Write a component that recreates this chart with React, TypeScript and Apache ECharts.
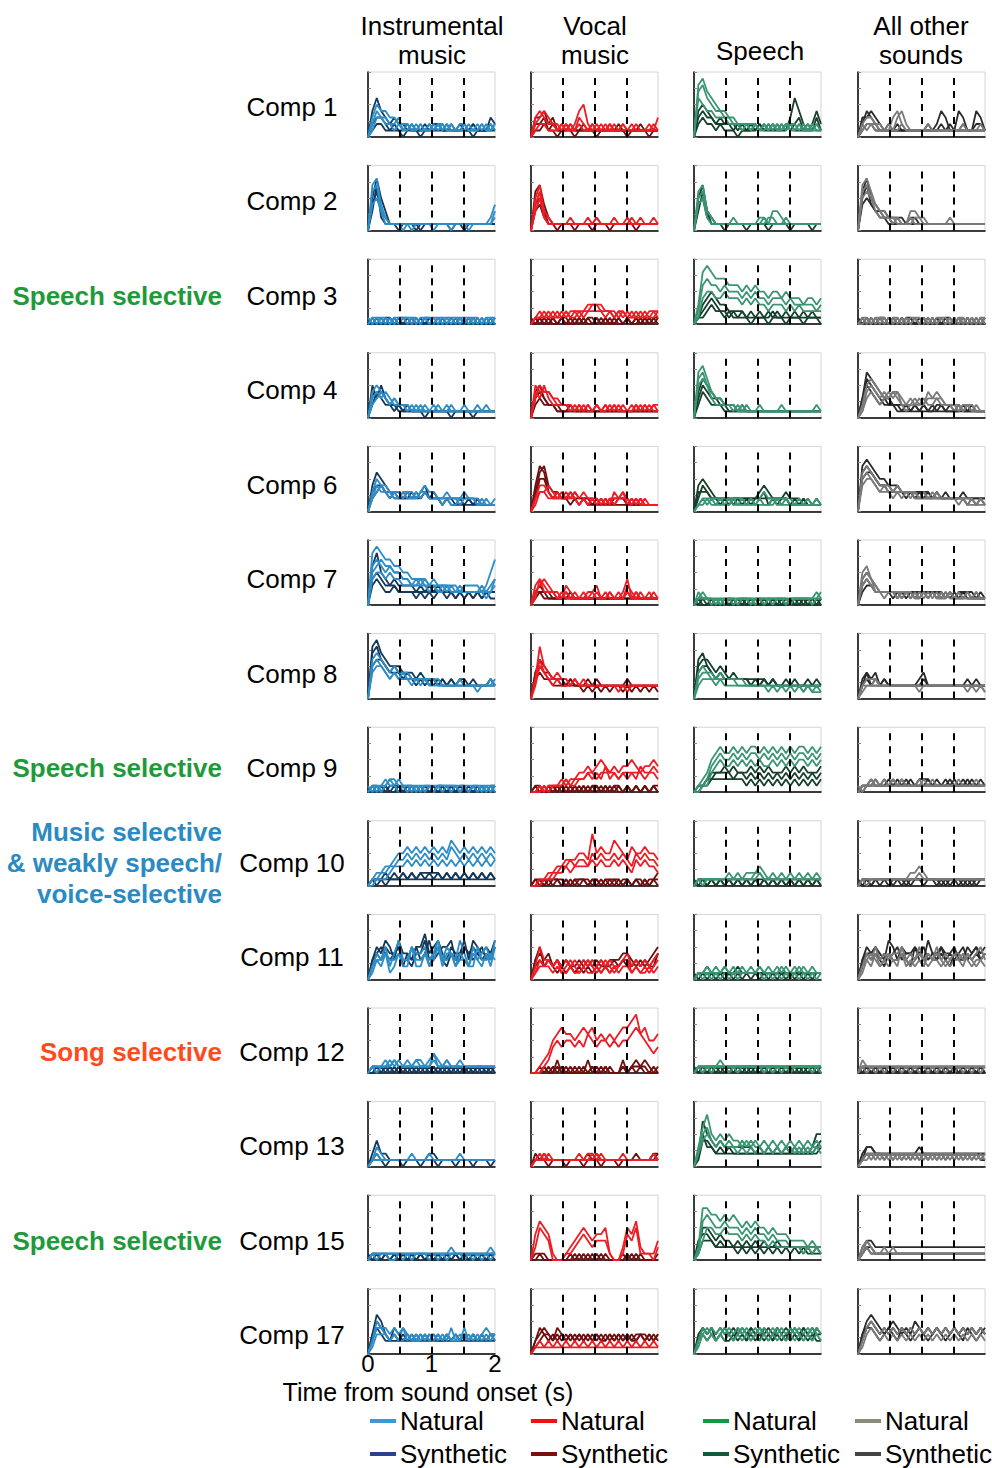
import React, { useEffect, useRef } from "react";
import * as echarts from "echarts";

// ---- Labels ----
const compLabels = ["Comp 1", "Comp 2", "Comp 3", "Comp 4", "Comp 6", "Comp 7", "Comp 8", "Comp 9", "Comp 10", "Comp 11", "Comp 12", "Comp 13", "Comp 15", "Comp 17"];
const columnHeaders = [["Instrumental", "music"], ["Vocal", "music"], ["Speech"], ["All other", "sounds"]];
const dashedTimes = [0.5, 1, 1.5];
const categoryLabels = [
  { row: 2, lines: ["Speech selective"], color: "#1f9a3b" },
  { row: 7, lines: ["Speech selective"], color: "#1f9a3b" },
  { row: 8, lines: ["Music selective", "& weakly speech/", "voice-selective"], color: "#2a8bc4" },
  { row: 10, lines: ["Song selective"], color: "#ff4a1c" },
  { row: 12, lines: ["Speech selective"], color: "#1f9a3b" },
];

// ---- Response time courses (each string = one sound's response over 0..2 s; digit = response level 0..9) ----
const instNat: string[][] = [
  ["035443322211212122111221121212", "024332231212111212121121112121", "013322121121211121211112112112"],
  ["078421111111111111111111111124", "067321110111111111101111111113", "045311111101111011111110111112"],
  ["101110101111011101101110101011", "011010111010110111010101110101", "010101011101011010111011010110"],
  ["045432322212121111211121111111", "034343222121111211111111121111", "023432322211211121121111111211"],
  ["035443332332343322322232221212", "024332323323232222211222212111", "023433223222332221222122211111"],
  ["089877665544443433333233332357", "067656554433433323322322223234", "045545443333332322322222222123", "056766554434343333232222222224"],
  ["067654544433333332222322222232", "045543433323232222222222212222", "056543434333332322222222222223"],
  ["011112121111111111111111111111", "101012211010101011101010101010", "010121101101011010111010110101"],
  ["012233455656565656576565656565", "011223344545454545465454545454", "001112333434343434343434343434"],
  ["024352463354452463543642534536", "013243342253342352442332432425", "023341243352243463342432253343"],
  ["011121211112212321211211111111", "010112121111111311111111111111", "011111211212111211211111111111"],
  ["013211111111112111111111111111", "011111111121111111111111111111", "012111111111111111111211111111"],
  ["011111111111111111121111111121", "010110010101110101011101010101", "011111111111111111111111111111"],
  ["025443434322323232323242323433", "013332324232232323242232323232", "024432322323232232322323232323"],
];
const instSyn: string[][] = [
  ["046432322121121221211211211132", "023321211211112121121111211121", "012211110111011111111121011111"],
  ["058531111111111111111111111111", "046321101111011111101111111111", "037211111110111111111101111111"],
  ["100101010010101001010100101001", "010011000101001010010101010010", "001000100010010001001000100100"],
  ["053432221211111111111111111111", "024322211111111111111111111111", "043532121111101111101111011111"],
  ["046543332232342221221222121111", "023433222222232221211111111111", "034432322323232322222212121111"],
  ["068543433332323232222222222222", "034322322221212122121212121222", "045433322222222222221212121211"],
  ["089765554443433323232332322232", "056654443332323232222222222222", "078654543433332323232322222232"],
  ["010101110101010101010101010101", "001010101010101010101010101010", "011010010110101011010110101011"],
  ["011121212121212121212121212121", "010101111111111111111111111111", "011111112121222221212121212121"],
  ["035465364435574564354463654546", "024354453324463453243354543435", "034543452435346345563454345345"],
  ["010101010101010101010101010101", "001010101010101010101010101010", "011011010110110101101101011010"],
  ["024221111111112211111111111111", "012111111111111111111111111111", "011101110111011101110111011101"],
  ["011010101010101010101010101011", "101010101010101010101010101010", "011111111111111111111111111111"],
  ["036532323232323232323232323232", "024322222222222222222222222222", "035432432323232322323232323233"],
];
const vocNat: string[][] = [
  ["023432121124521121211211111213", "034322212113211212111212111121", "012211121212112111121111211111"],
  ["057321111111111211121112111111", "046221111111121211111111121111", "035211111211111111111121111121"],
  ["011121212122233332212211112122", "012112121221223322221212121221", "011211112112122221212121211112"],
  ["054443322212121211212111212122", "043532222121211212121112121211", "035443222212121212121211212121"],
  ["024432323232322212132321212111", "013343232221212121222312121111", "023322222321212121212221211111"],
  ["034322213211112312111241211121", "023432112121211211211132121111", "014222121111122111212121111211"],
  ["038543433232322222222222222222", "025433333232222222222212222222", "036432322232222222221222222222"],
  ["001011121223343454343445434454", "000101112112232324232333243343", "001011112122233233332323332332"],
  ["001122334445548565576546556554", "001112233434435454454543545443", "000111223233334343343432434332"],
  ["025332323232323232322342323234", "013232312321232123212331212123", "012221211211211212121221211212"],
  ["001235676656767565656778967556", "000124545545465455454556765434"],
  ["012121111111122121111211111121", "011111111112111211111111111111", "011211111111112111111111111111"],
  ["046541001234543445100254621113", "025430001123432333100143511102"],
  ["012121212121212121212121212121", "011111111111111111111111111111"],
];
const vocSyn: string[][] = [
  ["033423112111211111211111111111", "022312111211112111112111121111", "011211011101111011111101111011"],
  ["067421111111111111111111111111", "034211011101111111011111011111", "045311111111110111111111111111"],
  ["010101011001011010101010101011", "101010010101010101001010101010", "001001010010100101010010010101"],
  ["034322211111111111111111111111", "023222111111111111111111111111", "045322111211111111111111111111"],
  ["036743322322222121212221121111", "025532222121211111111111111111", "047632322232221212122212111111"],
  ["023211112111111111111111211111", "012111111111111111111111111111", "022221111211111111111121111111"],
  ["046543332322232222222222222222", "034332222222121212122121212121", "045443322322222322222232222222"],
  ["010101010101010101011010101010", "001010101010101010101010101011", "011001010010101101010010101010"],
  ["010101110101110101011010101010", "001010101010101010101010101011", "011011101011101101110110110112"],
  ["034342323212323232333443232345", "023232121212121212122322323234", "035232323223232322232332323224"],
  ["000101010101020101000101212100", "001010201000101010100201111010", "000100100010001001000101010001"],
  ["021211111111121211111111211112", "011111111111111111111111111121", "011101110111011101110111111122"],
  ["011100000101010101000101010001", "001000000010101010000010100000"],
  ["023432323232323232323232332323", "012323232323232323232323232323", "024332432323232322323232233232"],
];
const speechNat: string[][] = [
  ["089765443322222112121221211211", "078654433222212121212122121121", "065443332221212121211211212111"],
  ["067321111111111221332111111111", "056321111111111112211211111111", "045211111211111121111111111111"],
  ["038987776665656554554544434434", "026766565554545443444343333323", "014554454443434332333232322222"],
  ["078643322211211211112111111121", "056532222121111111111111111111", "067543322212111111111111111111"],
  ["012222222222121232222221212121", "011211212112111211211111111111", "012121111211121111121211111111"],
  ["012111101111101111111111111112", "021110111011111101111011111121", "011101011101110111011101111011"],
  ["034443433333222222222222212121", "023332322222222221212121212111", "045433333322222222222222222222"],
  ["012356766767677676767676776767", "011245655656566565656565665656", "001134544545454544545454554545"],
  ["011111112121222321212121212121", "010111111111112211111111111111", "011111111111111211111111111111"],
  ["011212121212121212121212121211", "010101010101111101010101010101", "011111121111111211112111211111"],
  ["011111211111111111111111111111", "010101110101111101010101111010", "011111111111111111111111111111"],
  ["036854545443434343434343434343", "025643434334343323232332323232", "024543433323232323232323232333"],
  ["028877676765656554544433332322", "016765565554545443433322222222", "013554454443434332322222212121"],
  ["024343434343434343434343434343", "013232323232323232323232323232", "023432343234323432343234323432"],
];
const speechSyn: string[][] = [
  ["034332222121112121212136421242", "045432322212121212121212312131", "023221211101111211111121111121"],
  ["057321111111111111111111111111", "045211101111011110111101111011", "036311111111111111111111111111"],
  ["013454332222121212121212121211", "012343221212111111211111111111", "011232212111101110111011101110"],
  ["046543322212111111111111111111", "035433221111111111111111111111", "024322211111111111111111111111"],
  ["045432222222222343222322212121", "024322121221212231212211121111", "033322222122222222222212121111"],
  ["011101010101010101010101010101", "101010101010101010101010101010", "010010001001000100100010010001"],
  ["056654543433333332322323223232", "045543433333323232322222222222", "067543433333322232322222222222"],
  ["011223333233232323232323232323", "001122222222121212121212121212", "011233343433343434333434343334"],
  ["101010101010101010101010101010", "011010101010101010101010101010", "011111111111111111111111111111"],
  ["011111111121111111111111111111", "101010101010101010101010101011", "011211111111111111111111111111"],
  ["010101010101010101010101010101", "101010101010101010101010101010", "011111111111111111111111111111"],
  ["027543433333332323232323232355", "014432322222222222222222222223", "025332223222222222222222222234"],
  ["025543433232323232232222212121", "013332222212121212121212121111", "034432322222222222222222222222"],
  ["034343433434343434343434343433", "023232322323232323232323232322", "024342343243243243243243243243"],
];
const otherNat: string[][] = [
  ["023321113421111111111111111111", "012222121342111121111111211121", "021211111121111111111111111111"],
  ["078643322211332211111111111111", "056532222111122111111211111111", "067543221211211111111111111111"],
  ["010101101010110101010101101010", "001011010101011010110101010101", "011010101101010101011010101011"],
  ["025654343432232233432221221211", "014543434321222322322212121111", "013432334422323243332222122111"],
  ["067654443433332322322222212121", "045543332323322222222221211111", "056543433333232323222222222121"],
  ["056432222222212121212112121211", "034322222122211212111211111111", "045422122212121212121211121111"],
  ["023332222222222222222222222221", "012222222222221222222222212121", "022232222222222222222222222222"],
  ["011211212121111212111111111211", "101121111111111111111111111111", "011111112111112111111112111111"],
  ["011111111111223211111111111111", "010111111111112111111111111111", "011111111111111111111111111111"],
  ["024353434453435343534344343453", "013242323342323243323233432332", "023432343253234323432343243234"],
  ["021111111111111111111111111111", "010101010101010101010101010101", "011111111111111111111111111111"],
  ["012222222222222222222222222212", "011212121212121212121212121212", "012121212121212121212121212121"],
  ["023211212111111111111111111111", "012111111111111111111111111111", "013211111111111111111111111111"],
  ["024543434343434343434343434343", "013432323232323232323232323232"],
];
const otherSyn: string[][] = [
  ["033432111211111111243114311431", "024321121111111121121211211221", "012211111111111111111111111111"],
  ["068543322221221111111111111111", "045432211111111111111111111111", "057433221111111111111111111111"],
  ["101010010101101010101101010101", "010101101010010101010010101010", "001001010010100100101001010010"],
  ["037654332222121211221212112111", "026543222111111111111111111111", "035432322212121212121111211111"],
  ["078765544433333332323222322222", "056654433332322222222222212121", "067654443433323232322222222222"],
  ["045432222121212222212121211111", "023322221212121212121212121211", "034322222222222222221212222121"],
  ["034342322222223422222222232222", "023222222222222322222222222222", "024232322222222222222222222322"],
  ["011121212121212221212121212121", "101111121111111111111111111111", "011211111212111121111211121111"],
  ["101011101110111111010111010111", "011010110101011011101010101011", "011111111111111111111111111111"],
  ["035454365354454364354453354545", "024343243343253243343244343434", "034453434534434534453434534534"],
  ["101010101010101010101010101010", "011010101010101010101010101010", "001001000100100010010001001000"],
  ["023322222222223222222222222222", "012222121212121212121212121211", "013322222222222222222222222222"],
  ["023322222222222222222222222222", "012211111111111111111111111111", "012111111111111111111111111111"],
  ["035654345434354343434343434343", "024543434343434343434343434343", "034432343243234323432343243234"],
];

const natData = [instNat, vocNat, speechNat, otherNat];
const synData = [instSyn, vocSyn, speechSyn, otherSyn];
const natColors = ["#2d8dc6", "#ee1c24", "#3a9572", "#7a7a7a"];
const synColors = ["#15385a", "#6e0f10", "#163f2c", "#2a2a2a"];
const legendNatColors = ["#3a9bd2", "#ee1111", "#119944", "#8a8b78"];
const legendSynColors = ["#2b4190", "#7a1010", "#0f5a3a", "#444444"];

// ---- layout ----
const colLeft = [368, 531, 694, 858];
const panelW = 127;
const rowTop0 = 72;
const rowStep = 93.6;
const panelH = 65;
const labelY0 = 107;
const labelStep = 94.46;
const FONT = "'Liberation Sans', Arial, Helvetica, sans-serif";

function toPoints(s: string): number[][] {
  const n = s.length;
  const pts: number[][] = [];
  for (let i = 0; i < n; i++) pts.push([(i * 2) / (n - 1), parseInt(s[i], 10)]);
  return pts;
}

export default function App() {
  const ref = useRef<HTMLDivElement>(null);
  useEffect(() => {
    document.body.style.margin = "0";
    if (!ref.current) return;
    const chart = echarts.init(ref.current, undefined, { renderer: "svg" });
    const grids: any[] = [];
    const xAxes: any[] = [];
    const yAxes: any[] = [];
    const series: any[] = [];
    const graphics: any[] = [];
    const nRows = compLabels.length;
    const txt = (text: string, x: number, y: number, align: string, extra: any = {}) => ({
      type: "text", x, y,
      style: { text, fontSize: 26, lineHeight: 27, fontFamily: FONT, fill: "#000", align, verticalAlign: "middle", textAlign: align, textVerticalAlign: "middle", ...extra },
    });
    for (let r = 0; r < nRows; r++) {
      for (let c = 0; c < 4; c++) {
        const gi = r * 4 + c;
        const isLabeled = r === nRows - 1 && c === 0;
        grids.push({
          left: colLeft[c], top: rowTop0 + rowStep * r, width: panelW, height: panelH,
          show: true, borderColor: "#d4d4d4", borderWidth: 1, backgroundColor: "transparent",
        });
        xAxes.push({
          gridIndex: gi, type: "value", min: 0, max: 2, interval: 1,
          axisLine: { show: true, lineStyle: { color: "#000", width: 1.5 } },
          axisTick: { show: false }, splitLine: { show: false },
          axisLabel: { show: isLabeled, fontSize: 24, lineHeight: 20, color: "#000", fontFamily: FONT, margin: 0 },
        });
        yAxes.push({
          gridIndex: gi, type: "value", min: 0, max: 10, interval: 2.5,
          axisLine: { show: true, lineStyle: { color: "#000", width: 1.5 } },
          axisTick: { show: true, inside: true, length: 3, lineStyle: { color: "#888" } },
          splitLine: { show: false }, axisLabel: { show: false },
        });
        series.push({
          type: "line", xAxisIndex: gi, yAxisIndex: gi, data: [[0, 0]], silent: true,
          showSymbol: false, symbol: "none", lineStyle: { width: 0, opacity: 0 }, z: 1,
          markLine: {
            silent: true, symbol: ["none", "none"], label: { show: false },
            lineStyle: { color: "#000", type: [7, 6], width: 2 },
            data: dashedTimes.map((t) => ({ xAxis: t })),
          },
        });
        synData[c][r].forEach((s) => {
          series.push({
            type: "line", xAxisIndex: gi, yAxisIndex: gi, data: toPoints(s), silent: true,
            showSymbol: false, symbol: "none", z: 2, lineStyle: { width: 1.8, color: synColors[c] },
          });
        });
        natData[c][r].forEach((s) => {
          series.push({
            type: "line", xAxisIndex: gi, yAxisIndex: gi, data: toPoints(s), silent: true,
            showSymbol: false, symbol: "none", z: 3, lineStyle: { width: 1.8, color: natColors[c] },
          });
        });
      }
      graphics.push(txt(compLabels[r], 292, labelY0 + labelStep * r, "center"));
    }
    // category labels (multi-line labels drawn as one text block)
    categoryLabels.forEach((cl) => {
      const cy = labelY0 + labelStep * cl.row;
      graphics.push(txt(cl.lines.join("\n"), 222, cy, "right", { fontWeight: "bold", fill: cl.color, fontSize: 26, lineHeight: 31 }));
    });
    // column headers (one text block per column)
    const headerCx = [432, 595, 760, 921];
    columnHeaders.forEach((lines, c) => {
      const y = lines.length === 1 ? 51 : 40.5;
      graphics.push(txt(lines.join("\n"), headerCx[c], y, "center", { lineHeight: 29.5 }));
    });
    // axis title
    graphics.push(txt("Time from sound onset (s)", 428, 1392, "center", { fontSize: 25, lineHeight: 22 }));
    // legend
    const legX = [370, 531, 703, 855];
    legX.forEach((lx, c) => {
      [["Natural", legendNatColors[c], 1421], ["Synthetic", legendSynColors[c], 1454]].forEach(([label, color, y]: any) => {
        graphics.push({ type: "line", shape: { x1: lx, y1: y, x2: lx + 26, y2: y }, style: { stroke: color, lineWidth: 4 } });
        graphics.push(txt(label, lx + 30, y, "left"));
      });
    });

    chart.setOption({
      animation: false,
      backgroundColor: "#fff",
      grid: grids, xAxis: xAxes, yAxis: yAxes, series, graphic: graphics,
    });
    return () => chart.dispose();
  }, []);
  return <div ref={ref} style={{ width: 992, height: 1468 }} />;
}
